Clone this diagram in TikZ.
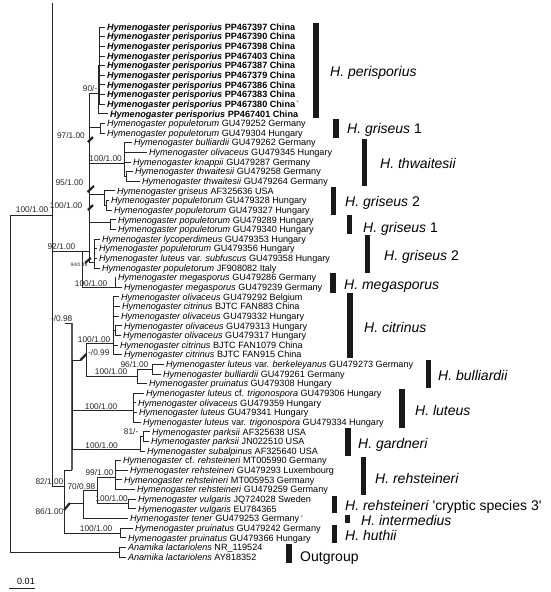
\documentclass[tikz,border=0pt]{standalone}
\usepackage{fontspec}
\setmainfont{Liberation Sans}
\newfontfamily\plainfont{Liberation Sans}
\newcommand\HG[1]{\textit{Hymenogaster #1}}
\newcommand\HGP[1]{\textbf{\textit{Hymenogaster perisporius} #1 China}}
\newcommand\redast{\,\raisebox{2.6pt}{\fontsize{5.5}{5.5}\selectfont\color{red}*}}
\tikzset{
  br/.style={draw=black!85, line width=0.8pt},
  thickc/.style={draw=black!65, line width=2pt},
  slash/.style={draw=black!85, line width=2.2pt},
  leaf/.style={anchor=west, inner sep=0pt, outer xsep=1.8pt, text height=6.6pt, text depth=0pt, font=\fontsize{9.1}{10}\selectfont},
  supl/.style={inner sep=0pt, font=\fontsize{8.3}{9}\selectfont, text=black!85},
  clade/.style={anchor=west, inner sep=0pt, text height=10pt, text depth=0pt, font=\fontsize{14}{16}\selectfont},
  cbar/.style={fill=black!90},
}
\begin{document}
\begin{tikzpicture}[x=1pt,y=-1pt]
\useasboundingbox (0,0) rectangle (550,592);
% ---------- leaves ----------
\node[leaf] (l1) at (105.2,27.00) {\HGP{PP467397}};
\node[leaf] (l2) at (105.2,36.64) {\HGP{PP467390}};
\node[leaf] (l3) at (105.2,46.27) {\HGP{PP467398}};
\node[leaf] (l4) at (105.2,55.91) {\HGP{PP467403}};
\node[leaf] (l5) at (105.2,65.54) {\HGP{PP467387}};
\node[leaf] (l6) at (105.2,75.18) {\HGP{PP467379}};
\node[leaf] (l7) at (105.2,84.82) {\HGP{PP467386}};
\node[leaf] (l8) at (105.2,94.45) {\HGP{PP467383}};
\node[leaf] (l9) at (105.2,104.09) {\HGP{PP467380}\redast};
\node[leaf] (l10) at (108.2,113.72) {\HGP{PP467401}};
\node[leaf] (l11) at (105.2,123.36) {\HG{populetorum} GU479252 Germany};
\node[leaf] (l12) at (105.2,133.00) {\HG{populetorum} GU479304 Hungary};
\node[leaf] (l13) at (132.2,142.63) {\HG{bulliardii} GU479262 Germany};
\node[leaf] (l14) at (147.2,152.27) {\HG{olivaceus} GU479345 Hungary};
\node[leaf] (l15) at (131.2,161.90) {\HG{knappii} GU479287 Germany};
\node[leaf] (l16) at (133.2,171.54) {\HG{thwaitesii} GU479258 Germany};
\node[leaf] (l17) at (140.2,181.18) {\HG{thwaitesii} GU479264 Germany};
\node[leaf] (l18) at (115.2,190.81) {\HG{griseus} AF325636 USA};
\node[leaf] (l19) at (109.2,200.45) {\HG{populetorum} GU479328 Hungary};
\node[leaf] (l20) at (112.2,210.08) {\HG{populetorum} GU479327 Hungary};
\node[leaf] (l21) at (116.2,219.72) {\HG{populetorum} GU479289 Hungary};
\node[leaf] (l22) at (116.2,229.36) {\HG{populetorum} GU479340 Hungary};
\node[leaf] (l23) at (100.2,238.99) {\HG{lycoperdimeus} GU479353 Hungary};
\node[leaf] (l24) at (97.2,248.63) {\HG{populetorum} GU479356 Hungary};
\node[leaf] (l25) at (97.2,258.26) {\HG{luteus} var. \textit{subfuscus} GU479358 Hungary};
\node[leaf] (l26) at (100.2,267.90) {\HG{populetorum} JF908082 Italy};
\node[leaf] (l27) at (116.2,277.54) {\HG{megasporus} GU479286 Germany};
\node[leaf] (l28) at (122.2,287.17) {\HG{megasporus} GU479239 Germany};
\node[leaf] (l29) at (119.2,296.81) {\HG{olivaceus} GU479292 Belgium};
\node[leaf] (l30) at (120.2,306.44) {\HG{citrinus} BJTC FAN883 China};
\node[leaf] (l31) at (119.2,316.08) {\HG{olivaceus} GU479332 Hungary};
\node[leaf] (l32) at (122.2,325.72) {\HG{olivaceus} GU479313 Hungary};
\node[leaf] (l33) at (121.2,335.35) {\HG{olivaceus} GU479317 Hungary};
\node[leaf] (l34) at (118.2,344.99) {\HG{citrinus} BJTC FAN1079 China};
\node[leaf] (l35) at (122.2,354.62) {\HG{citrinus} BJTC FAN915 China};
\node[leaf] (l36) at (164.2,364.26) {\HG{luteus} var. \textit{berkeleyanus} GU479273 Germany};
\node[leaf] (l37) at (161.2,373.90) {\HG{bulliardii} GU479261 Germany};
\node[leaf] (l38) at (147.2,383.53) {\HG{pruinatus} GU479308 Hungary};
\node[leaf] (l39) at (144.2,393.17) {\HG{luteus} cf. \textit{trigonospora} GU479306 Hungary};
\node[leaf] (l40) at (136.2,402.80) {\HG{olivaceus} GU479359 Hungary};
\node[leaf] (l41) at (137.2,412.44) {\HG{luteus} GU479341 Hungary};
\node[leaf] (l42) at (141.2,422.08) {\HG{luteus} var. \textit{trigonospora} GU479334 Hungary};
\node[leaf] (l43) at (150.2,431.71) {\HG{parksii} AF325638 USA};
\node[leaf] (l44) at (149.2,441.35) {\HG{parksii} JN022510 USA};
\node[leaf] (l45) at (145.2,450.98) {\HG{subalpinus} AF325640 USA};
\node[leaf] (l46) at (121.2,460.62) {\textit{Hymenogaster} cf. \textit{rehsteineri} MT005990 Germany};
\node[leaf] (l47) at (128.2,470.26) {\HG{rehsteineri} GU479293 Luxembourg};
\node[leaf] (l48) at (122.2,479.89) {\HG{rehsteineri} MT005953 Germany};
\node[leaf] (l49) at (135.2,489.53) {\HG{rehsteineri} GU479259 Germany};
\node[leaf] (l50) at (136.2,499.16) {\HG{vulgaris} JQ724028 Sweden};
\node[leaf] (l51) at (136.2,508.80) {\HG{vulgaris} EU784365};
\node[leaf] (l52) at (128.2,518.44) {\HG{tener} GU479253 Germany\redast};
\node[leaf] (l53) at (133.2,528.07) {\HG{pruinatus} GU479242 Germany};
\node[leaf] (l54) at (126.2,537.71) {\HG{pruinatus} GU479366 Hungary};
\node[leaf] (l55) at (126.2,547.34) {\textit{Anamika lactariolens} NR\_119524};
\node[leaf] (l56) at (126.2,556.98) {\textit{Anamika lactariolens} AY818352};
% ---------- internal nodes ----------
\coordinate (R) at (10,383);
\coordinate (I) at (52,215);
\coordinate (Itop) at (52,3);
\coordinate (O) at (119,552.2);
\coordinate (U) at (82,251);
\coordinate (LD) at (89,251);
\coordinate (M) at (115,287.5);
\coordinate (P) at (98.5,93);
\coordinate (P9) at (99.5,65.5);
\coordinate (G1) at (100,127);
\coordinate (T) at (124,163);
\coordinate (T2) at (126,176.4);
\coordinate (G2) at (104,194);
\coordinate (G2s) at (106.5,205.3);
\coordinate (G1b) at (110,222);
\coordinate (G2b) at (94,262);
\coordinate (N82) at (64,486);
\coordinate (Ct) at (72,323);
\coordinate (Cs) at (65,323);
\coordinate (Cb) at (72,470);
\coordinate (Cn) at (72,400);
\coordinate (CBs) at (80.5,360);
\coordinate (CB) at (86.5,354);
\coordinate (Ci) at (113,343.5);
\coordinate (Cc) at (115,330.5);
\coordinate (Bu) at (137,376);
\coordinate (B96) at (152,369);
\coordinate (L) at (133,410.5);
\coordinate (Gd) at (140,449.5);
\coordinate (Pk) at (143,436.5);
\coordinate (N86) at (64,510);
\coordinate (N86s) at (70,503);
\coordinate (RVT) at (83,503);
\coordinate (RV) at (97,490.5);
\coordinate (Rh) at (115,477);
\coordinate (V) at (128,503);
\coordinate (H) at (120,533);
% ---------- branches ----------
\draw[br] (R) |- (I);
\draw[br] (R) |- (O);
\draw[br] (I) -- (Itop);
\draw[br] (I) |- (U);
\draw[br] (U) -- (LD);
\draw[br] (U) |- (M);
\foreach \c in {P,G1,T,G2,G1b,G2b} \draw[br] (LD) |- (\c);
\draw[br] (P) |- (P9);
\draw[br] (P) |- (l10.west);
\foreach \i in {1,...,9} \draw[br] (P9) |- (l\i.west);
\foreach \i in {11,12} \draw[br] (G1) |- (l\i.west);
\foreach \i in {13,14,15} \draw[br] (T) |- (l\i.west);
\draw[br] (T) |- (T2);
\foreach \i in {16,17} \draw[br] (T2) |- (l\i.west);
\draw[br] (G2) |- (l18.west);
\draw[br] (G2) |- (G2s);
\foreach \i in {19,20} \draw[br] (G2s) |- (l\i.west);
\foreach \i in {21,22} \draw[br] (G1b) |- (l\i.west);
\foreach \i in {23,...,26} \draw[br] (G2b) |- (l\i.west);
\foreach \i in {27,28} \draw[br] (M) |- (l\i.west);
\draw[br] (I) |- (N82);
\draw[br] (N82) |- (Cb);
\draw[br] (N82) -- (N86);
\draw[thickc] (Ct) -- (Cb);
\draw[br] (Cs) -- (Ct);
\draw[br] (Cn) |- (CBs);
\draw[slash] (CBs) -- (CB);
\draw[br] (CB) |- (Ci);
\draw[br] (CB) |- (Bu);
\foreach \i in {29,30,31,34,35} \draw[br] (Ci) |- (l\i.west);
\draw[br] (Ci) |- (Cc);
\foreach \i in {32,33} \draw[br] (Cc) |- (l\i.west);
\draw[br] (Bu) |- (B96);
\draw[br] (Bu) |- (l38.west);
\foreach \i in {36,37} \draw[br] (B96) |- (l\i.west);
\draw[br] (Cn) |- (L);
\foreach \i in {39,...,42} \draw[br] (L) |- (l\i.west);
\draw[br] (Cn) |- (Gd);
\draw[br] (Gd) |- (Pk);
\draw[br] (Gd) |- (l45.west);
\foreach \i in {43,44} \draw[br] (Pk) |- (l\i.west);
\draw[br] (N86) |- (H);
\draw[slash] (N86) -- (N86s);
\draw[br] (N86s) -- (RVT);
\draw[br] (RVT) |- (RV);
\draw[br] (RVT) |- (l52.west);
\draw[br] (RV) |- (Rh);
\draw[br] (RV) |- (V);
\foreach \i in {46,...,49} \draw[br] (Rh) |- (l\i.west);
\foreach \i in {50,51} \draw[br] (V) |- (l\i.west);
\foreach \i in {53,54} \draw[br] (H) |- (l\i.west);
\foreach \i in {55,56} \draw[br] (O) |- (l\i.west);
% short thick marks on the ladder
\draw[slash] (88,142) -- (93,137);
\draw[slash] (87.5,192) -- (94,186);
\draw[slash] (88,210) -- (93,205);
\draw[slash] (85,263) -- (91,258);
% ---------- support values ----------
\node[supl, anchor=base east] (s1) at (48.5,212.5) {100/1.00};
\node[supl, anchor=base east] (s2) at (97.5,91) {90/-};
\node[supl, anchor=base east] (s3) at (85,138) {97/1.00};
\node[supl, anchor=base east] (s4) at (122,161.5) {100/1.00};
\node[supl, anchor=base east] (s5) at (83.5,185) {95/1.00};
\node[supl, anchor=base east] (s6) at (82.5,208) {100/1.00};
\node[supl, anchor=base east] (s7) at (75.5,249.5) {92/1.00};
\node[inner sep=0pt, font=\fontsize{5}{5}\selectfont, text=black!85, anchor=base east] (s8) at (87.5,266.5) {94/0.99};
\node[supl, anchor=base east] (s9) at (107.5,286) {100/1.00};
\node[supl, anchor=base east] (s10) at (72.5,321.5) {-/0.98};
\node[supl, anchor=base east] (s11) at (110.5,342) {100/1.00};
\node[supl, anchor=base west] (s12) at (88,355) {-/0.99};
\node[supl, anchor=base east] (s13) at (148.5,367.5) {96/1.00};
\node[supl, anchor=base east] (s14) at (127.5,374.5) {100/1.00};
\node[supl, anchor=base east] (s15) at (117.5,409) {100/1.00};
\node[supl, anchor=base east] (s16) at (138.5,434.5) {81/-};
\node[supl, anchor=base east] (s17) at (118,448) {100/1.00};
\node[supl, anchor=base east] (s18) at (113.5,475.5) {99/1.00};
\node[supl, anchor=base east] (s19) at (63.5,484) {82/1.00};
\node[supl, anchor=base east] (s20) at (95.5,489) {70/0.98};
\node[supl, anchor=base east] (s21) at (128,501.5) {100/1.00};
\node[supl, anchor=base east] (s22) at (63.5,514.5) {86/1.00};
\node[supl, anchor=base east] (s23) at (112.5,531) {100/1.00};
% ---------- clade bars and names ----------
\fill[cbar] (313,23) rectangle (319,118);
\node[clade] (c1) at (330,71) {\textit{H. perisporius}};
\fill[cbar] (333,119) rectangle (339,138);
\node[clade] (c2) at (347,128) {\textit{H. griseus} 1};
\fill[cbar] (362,139) rectangle (367,186);
\node[clade] (c3) at (380,163) {\textit{H. thwaitesii}};
\fill[cbar] (331,187) rectangle (336,215);
\node[clade] (c4) at (345,201) {\textit{H. griseus} 2};
\fill[cbar] (347,215) rectangle (352,234);
\node[clade] (c5) at (363,227) {\textit{H. griseus} 1};
\fill[cbar] (365,235) rectangle (370,273);
\node[clade] (c6) at (384,255) {\textit{H. griseus} 2};
\fill[cbar] (330,273) rectangle (336,293);
\node[clade] (c7) at (344,284) {\textit{H. megasporus}};
\fill[cbar] (347,293) rectangle (353,358);
\node[clade] (c8) at (364,327) {\textit{H. citrinus}};
\fill[cbar] (426,360) rectangle (431,388);
\node[clade] (c9) at (438,375) {\textit{H. bulliardii}};
\fill[cbar] (399,389) rectangle (405,428);
\node[clade] (c10) at (415,410) {\textit{H. luteus}};
\fill[cbar] (345,428) rectangle (351,456);
\node[clade] (c11) at (358,443) {\textit{H. gardneri}};
\fill[cbar] (361,457) rectangle (366,495);
\node[clade] (c12) at (375,478) {\textit{H. rehsteineri}};
\fill[cbar] (332,496) rectangle (337,513);
\node[clade] (c13) at (345,505) {\textit{H. rehsteineri} {\plainfont'}cryptic species 3{\plainfont'}};
\fill[cbar] (345,515) rectangle (350,523);
\node[clade] (c14) at (361,520) {\textit{H. intermedius}};
\fill[cbar] (332,525) rectangle (337,543);
\node[clade] (c15) at (345,535) {\textit{H. huthii}};
\fill[cbar] (286,544) rectangle (292,563);
\node[clade] (c16) at (300,556) {Outgroup};
% ---------- scale bar ----------
\coordinate (sb1) at (9,588);
\coordinate (sb2) at (35,588);
\draw[br] (sb1) -- (sb2);
\node[inner sep=0pt, font=\fontsize{9}{10}\selectfont] (sbl) at (26,581) {0.01};
\end{tikzpicture}
\end{document}
